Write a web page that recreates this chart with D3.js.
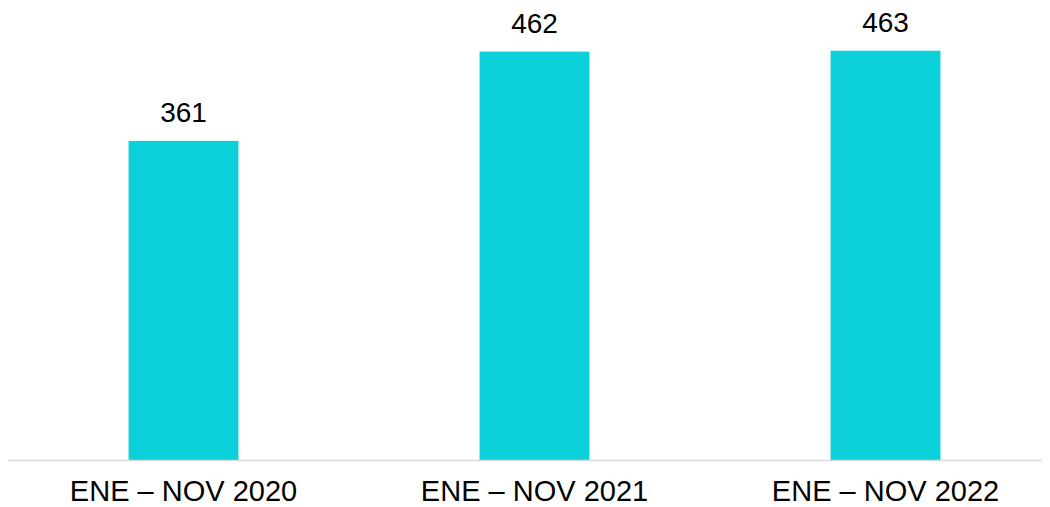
<!DOCTYPE html>
<html>
<head>
<meta charset="utf-8">
<script src="https://cdn.jsdelivr.net/npm/d3@7"></script>
<style>
  html, body { margin: 0; padding: 0; background: #fff; }
  svg { display: block; }
</style>
</head>
<body>
<svg id="chart" width="1050" height="507"></svg>
<script>
const categories = ["ENE – NOV 2020", "ENE – NOV 2021", "ENE – NOV 2022"];
const values = [361, 462, 463];

const svg = d3.select("#chart");
const font = "'Liberation Sans', Arial, sans-serif";

const x = d3.scaleBand()
  .domain(categories)
  .range([8, 1061])
  .paddingInner(0.687)
  .paddingOuter(0.3435);

const y = d3.scaleLinear().domain([0, 500]).range([460, 18]);

// bars
svg.selectAll("rect.bar")
  .data(categories)
  .enter().append("rect")
  .attr("class", "bar")
  .attr("x", d => x(d))
  .attr("width", x.bandwidth())
  .attr("y", (d, i) => y(values[i]))
  .attr("height", (d, i) => y(0) - y(values[i]))
  .attr("fill", "#0CD1DA");

// baseline axis
const axis = svg.append("g").attr("transform", "translate(0," + (y(0) + 0.5) + ")")
  .call(d3.axisBottom(x).tickSize(0).tickPadding(26));
axis.select(".domain").remove();
axis.append("line")
  .attr("x1", 8).attr("x2", 1042)
  .attr("y1", 0).attr("y2", 0)
  .attr("stroke", "#D9D9D9").attr("stroke-width", 1.5);
axis.selectAll(".tick text")
  .attr("font-family", font)
  .attr("font-size", 29)
  .attr("fill", "#000")
  .attr("dy", "0.71em")
  .attr("y", 20);

// value labels
svg.selectAll("text.val")
  .data(categories)
  .enter().append("text")
  .attr("class", "val")
  .attr("x", d => x(d) + x.bandwidth() / 2)
  .attr("y", (d, i) => y(values[i]) - 19)
  .attr("text-anchor", "middle")
  .attr("font-family", font)
  .attr("font-size", 28)
  .attr("fill", "#000")
  .text((d, i) => values[i]);
</script>
</body>
</html>
